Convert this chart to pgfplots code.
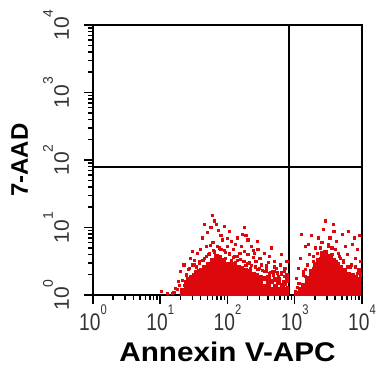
\documentclass[border=0pt]{standalone}
\usepackage{pgfplots}
\pgfplotsset{compat=1.18}
\usepackage{fontspec}
\setmainfont{Liberation Sans}
\newfontfamily\tickfont[FakeStretch=0.8]{Liberation Sans}
\newfontfamily\xlabfont[FakeStretch=1.1]{Liberation Sans}
\definecolor{cred}{RGB}{220,8,12}
\newcommand{\tl}[1]{10\raisebox{16pt}{\fontsize{14}{15}\selectfont #1}}
\newcommand{\tly}[1]{10\raisebox{16pt}{\fontsize{14}{15}\selectfont #1}\rule[-14pt]{0pt}{14pt}}
\begin{document}
\begin{tikzpicture}
\begin{axis}[
 scale only axis, width=269pt, height=270pt,
 xmin=0, xmax=4, ymin=0, ymax=4,
 clip=false, axis on top=true,
 xtick={0,1,2,3,4}, ytick={0,1,2,3,4},
 xticklabels={\tl{0},\tl{1},\tl{2},\tl{3},\tl{4}},
 yticklabels={\tly{0},\tly{1},\tly{2},\tly{3},\tly{4}},
 tick align=outside, tick pos=left,
 major tick length=9pt, minor tick length=5pt,
 tick style={draw=black, line width=1.5pt},
 axis line style={line width=2pt},
 xticklabel style={font=\tickfont\fontsize{24}{26}\selectfont, text=black!80, inner sep=1pt},
 yticklabel style={font=\fontsize{21}{23}\selectfont, text=black!80, inner sep=1pt, rotate=90, anchor=south},
 xlabel={\xlabfont\bfseries Annexin V-APC},
 ylabel={\bfseries 7-AAD},
 xlabel style={font=\fontsize{27}{29}\selectfont, at={(axis description cs:0.5,-0.248)}, anchor=base},
 ylabel style={font=\fontsize{24}{26}\selectfont, at={(axis description cs:-0.2417,0.5)}, anchor=base},
]
% dense core, population 1
\addplot[cred, only marks, mark=square*, mark size=2pt, mark options={draw=none, fill=cred}] coordinates {
(1.33,0.03)(1.33,0.07)
(1.39,0.03)(1.39,0.08)(1.39,0.13)(1.39,0.19)
(1.44,0.03)(1.44,0.07)(1.44,0.13)(1.44,0.18)(1.44,0.24)
(1.50,0.03)(1.50,0.08)(1.50,0.14)(1.50,0.19)(1.50,0.25)(1.50,0.30)
(1.55,0.03)(1.55,0.07)(1.55,0.13)(1.55,0.19)(1.55,0.24)(1.55,0.31)
(1.61,0.03)(1.61,0.08)(1.61,0.13)(1.61,0.18)(1.61,0.25)(1.61,0.30)(1.61,0.36)
(1.66,0.03)(1.66,0.07)(1.66,0.14)(1.66,0.19)(1.66,0.24)(1.66,0.29)(1.66,0.35)(1.66,0.41)
(1.72,0.03)(1.72,0.08)(1.72,0.13)(1.72,0.18)(1.72,0.24)(1.72,0.30)(1.72,0.36)(1.72,0.41)(1.72,0.46)
(1.77,0.03)(1.77,0.07)(1.77,0.13)(1.77,0.19)(1.77,0.25)(1.77,0.30)(1.77,0.35)(1.77,0.40)(1.77,0.46)(1.77,0.52)
(1.83,0.03)(1.83,0.08)(1.83,0.14)(1.83,0.19)(1.83,0.24)(1.83,0.29)(1.83,0.35)(1.83,0.41)(1.83,0.47)(1.83,0.52)(1.83,0.57)
(1.88,0.03)(1.88,0.07)(1.88,0.13)(1.88,0.18)(1.88,0.24)(1.88,0.30)(1.88,0.36)(1.88,0.42)(1.88,0.46)(1.88,0.51)(1.88,0.56)
(1.94,0.03)(1.94,0.08)(1.94,0.13)(1.94,0.19)(1.94,0.25)(1.94,0.30)(1.94,0.35)(1.94,0.41)(1.94,0.47)(1.94,0.52)
(1.99,0.03)(1.99,0.07)(1.99,0.14)(1.99,0.19)(1.99,0.24)(1.99,0.29)(1.99,0.36)(1.99,0.41)(1.99,0.46)
(2.05,0.03)(2.05,0.08)(2.05,0.13)(2.05,0.18)(2.05,0.25)(2.05,0.30)(2.05,0.35)(2.05,0.40)(2.05,0.46)
(2.10,0.03)(2.10,0.07)(2.10,0.13)(2.10,0.19)(2.10,0.24)(2.10,0.31)(2.10,0.36)(2.10,0.42)
(2.16,0.03)(2.16,0.08)(2.16,0.14)(2.16,0.19)(2.16,0.25)(2.16,0.30)(2.16,0.35)(2.16,0.41)
(2.21,0.03)(2.21,0.07)(2.21,0.13)(2.21,0.18)(2.21,0.24)(2.21,0.29)(2.21,0.36)(2.21,0.40)
(2.27,0.03)(2.27,0.08)(2.27,0.13)(2.27,0.19)(2.27,0.25)(2.27,0.31)(2.27,0.37)
(2.32,0.03)(2.32,0.07)(2.32,0.14)(2.32,0.20)(2.32,0.24)(2.32,0.30)(2.32,0.35)
(2.38,0.03)(2.38,0.08)(2.38,0.13)(2.38,0.19)(2.38,0.26)(2.38,0.31)
(2.43,0.03)(2.43,0.07)(2.43,0.13)(2.43,0.18)(2.43,0.24)(2.43,0.29)
(2.49,0.03)(2.49,0.08)(2.49,0.14)(2.49,0.20)(2.49,0.27)
(2.54,0.03)(2.54,0.07)(2.54,0.13)(2.54,0.25)
(2.60,0.03)(2.60,0.08)(2.60,0.14)(2.60,0.19)(2.60,0.26)
(2.65,0.03)(2.65,0.09)(2.65,0.20)
(2.71,0.03)(2.71,0.07)(2.71,0.13)(2.71,0.24)
(2.76,0.03)(2.76,0.08)(2.76,0.19)
(2.82,0.03)(2.82,0.09)(2.82,0.14)
(2.87,0.03)(2.87,0.08)
};
% dense core, population 2
\addplot[cred, only marks, mark=square*, mark size=2pt, mark options={draw=none, fill=cred}] coordinates {
(3.02,0.03)
(3.08,0.03)(3.08,0.08)
(3.13,0.03)(3.13,0.07)(3.13,0.14)
(3.19,0.03)(3.19,0.08)(3.19,0.13)(3.19,0.19)(3.19,0.25)
(3.24,0.03)(3.24,0.07)(3.24,0.13)(3.24,0.19)(3.24,0.24)(3.24,0.30)(3.24,0.35)
(3.30,0.03)(3.30,0.08)(3.30,0.14)(3.30,0.19)(3.30,0.25)(3.30,0.31)(3.30,0.36)(3.30,0.41)(3.30,0.46)
(3.35,0.03)(3.35,0.07)(3.35,0.13)(3.35,0.18)(3.35,0.24)(3.35,0.29)(3.35,0.35)(3.35,0.41)(3.35,0.47)(3.35,0.52)
(3.41,0.03)(3.41,0.08)(3.41,0.13)(3.41,0.19)(3.41,0.25)(3.41,0.30)(3.41,0.36)(3.41,0.41)(3.41,0.46)(3.41,0.52)(3.41,0.57)(3.41,0.62)
(3.46,0.03)(3.46,0.07)(3.46,0.14)(3.46,0.19)(3.46,0.24)(3.46,0.30)(3.46,0.35)(3.46,0.41)(3.46,0.47)(3.46,0.52)(3.46,0.58)(3.46,0.64)
(3.52,0.03)(3.52,0.08)(3.52,0.13)(3.52,0.18)(3.52,0.25)(3.52,0.31)(3.52,0.36)(3.52,0.42)(3.52,0.47)(3.52,0.53)(3.52,0.58)
(3.57,0.03)(3.57,0.07)(3.57,0.13)(3.57,0.19)(3.57,0.24)(3.57,0.30)(3.57,0.35)(3.57,0.41)(3.57,0.46)(3.57,0.51)
(3.63,0.03)(3.63,0.08)(3.63,0.14)(3.63,0.20)(3.63,0.25)(3.63,0.31)(3.63,0.36)(3.63,0.42)(3.63,0.46)
(3.68,0.03)(3.68,0.07)(3.68,0.13)(3.68,0.19)(3.68,0.24)(3.68,0.29)(3.68,0.35)(3.68,0.41)
(3.74,0.03)(3.74,0.08)(3.74,0.13)(3.74,0.18)(3.74,0.25)(3.74,0.30)(3.74,0.36)
(3.79,0.03)(3.79,0.07)(3.79,0.14)(3.79,0.19)(3.79,0.24)(3.79,0.31)
(3.85,0.03)(3.85,0.08)(3.85,0.13)(3.85,0.20)(3.85,0.25)(3.85,0.30)
(3.90,0.03)(3.90,0.07)(3.90,0.13)(3.90,0.19)(3.90,0.26)
(3.95,0.03)(3.95,0.08)(3.95,0.14)(3.95,0.20)(3.95,0.24)
};
% scattered events, population 1
\addplot[cred, only marks, mark=square*, mark size=1.1pt, mark options={draw=none, fill=cred}] coordinates {
(1.77,1.18)(1.80,1.10)(1.83,1.05)(1.75,1.00)(1.86,0.96)(1.70,0.93)(1.62,0.85)(1.90,0.88)
(2.05,0.80)(2.15,0.85)(2.22,0.90)(2.27,0.88)(2.30,0.82)(2.12,0.75)(2.35,0.72)(2.45,0.68)
(2.55,0.62)(2.62,0.58)(2.70,0.50)(2.78,0.45)(2.85,0.40)(2.88,0.30)(2.80,0.33)(2.75,0.28)
(2.66,0.35)(2.58,0.40)(2.50,0.45)(2.42,0.50)(2.38,0.56)(2.30,0.60)(2.25,0.65)(2.18,0.62)
(2.10,0.58)(2.02,0.62)(1.95,0.66)(1.88,0.70)(1.80,0.64)(1.72,0.60)(1.65,0.55)(1.58,0.50)
(1.50,0.45)(1.43,0.40)(1.38,0.30)(1.33,0.22)(1.28,0.15)(1.25,0.08)(1.20,0.04)(1.10,0.03)
(1.02,0.06)(1.45,0.55)(1.55,0.62)(1.68,0.72)(1.78,0.78)(1.92,0.82)(2.00,0.72)(2.08,0.68)
(2.20,0.72)(2.40,0.62)(2.48,0.55)(2.60,0.48)(2.72,0.40)(1.60,0.68)(1.85,0.58)(1.97,0.55)
(2.15,0.52)(2.32,0.48)(2.55,0.35)(2.68,0.30)(1.52,0.35)(1.40,0.25)(2.83,0.20)(2.89,0.12)
(2.89,0.05)(1.30,0.35)(1.35,0.45)(1.48,0.65)(2.02,0.95)(1.95,1.02)(2.25,1.00)(1.65,1.05)
(2.44,0.80)(2.65,0.70)(2.80,0.60)(2.88,0.50)(1.73,0.47)(1.88,0.50)(2.05,0.52)(2.27,0.44)
(2.45,0.38)(2.62,0.32)(2.77,0.24)(1.57,0.36)(1.45,0.28)(2.86,0.16)(2.34,0.40)(2.12,0.48)
(1.42,0.38)(1.47,0.45)(1.53,0.42)(1.58,0.47)(1.63,0.52)(1.68,0.58)(1.73,0.62)(1.79,0.66)
(1.85,0.72)(1.90,0.68)(1.96,0.63)(2.03,0.60)(2.08,0.56)(2.14,0.58)(2.19,0.53)(2.24,0.50)
(2.30,0.47)(2.35,0.44)(2.41,0.42)(2.47,0.40)(2.52,0.37)(2.57,0.36)(2.63,0.34)(2.69,0.35)
(2.74,0.33)(2.80,0.31)(2.85,0.28)(2.88,0.25)(2.58,0.44)(2.70,0.42)(2.84,0.36)(2.88,0.20)
(1.22,0.10)(1.18,0.03)(1.27,0.20)(1.36,0.15)(1.50,0.52)(1.74,0.74)(2.00,0.84)(2.38,0.66)
};
% scattered events, population 2
\addplot[cred, only marks, mark=square*, mark size=1.1pt, mark options={draw=none, fill=cred}] coordinates {
(3.02,0.25)(3.05,0.40)(3.08,0.55)(3.12,0.35)(3.18,0.45)(3.22,0.60)(3.28,0.50)(3.30,0.70)
(3.35,0.85)(3.40,0.78)(3.45,0.65)(3.50,0.72)(3.55,0.60)(3.60,0.68)(3.62,0.80)(3.68,0.55)
(3.72,0.48)(3.78,0.60)(3.82,0.42)(3.85,0.75)(3.90,0.55)(3.95,0.38)(3.97,0.50)(3.93,0.68)
(3.88,0.85)(3.70,0.90)(3.58,0.95)(3.42,0.98)(3.25,0.88)(3.15,0.72)(3.10,0.90)(3.48,0.58)
(3.38,0.55)(3.65,0.62)(3.75,0.72)(3.96,0.88)(3.20,0.75)(3.33,0.62)(3.52,0.85)(3.80,0.95)
(3.06,0.18)(3.16,0.28)(3.27,0.40)(3.44,0.54)(3.62,0.50)(3.78,0.42)(3.93,0.32)(3.97,0.28)
(3.04,0.12)(3.01,0.05)(3.12,0.30)(3.16,0.38)(3.28,0.58)(3.38,0.70)(3.50,0.75)(3.55,0.70)
(3.66,0.58)(3.72,0.52)(3.84,0.45)(3.90,0.42)(3.95,0.36)(3.97,0.32)(3.57,1.05)(3.45,1.10)
};
% quadrant gates
\addplot[black, line width=2.2pt] coordinates {(2.91,0) (2.91,4)};
\addplot[black, line width=1.3pt] coordinates {(0,1.895) (4,1.895)};
% axis tick marks (decades and log minor positions)
\addplot[black, line width=1.5pt, unbounded coords=jump] coordinates {
(0,0)(0,-0.134)(0,nan) (1,0)(1,-0.134)(1,nan) (2,0)(2,-0.134)(2,nan) (3,0)(3,-0.134)(3,nan) (4,0)(4,-0.134)(4,nan)
(0,0)(-0.133,0)(nan,0) (0,1)(-0.133,1)(nan,1) (0,2)(-0.133,2)(nan,2) (0,3)(-0.133,3)(nan,3) (0,4)(-0.133,4)(nan,4)
};
\addplot[black, line width=1.5pt, unbounded coords=jump] coordinates {
(0.301,0)(0.301,-0.074)(0.301,nan) (0.477,0)(0.477,-0.074)(0.477,nan) (0.602,0)(0.602,-0.074)(0.602,nan) (0.699,0)(0.699,-0.074)(0.699,nan)
(0.778,0)(0.778,-0.074)(0.778,nan) (0.845,0)(0.845,-0.074)(0.845,nan) (0.903,0)(0.903,-0.074)(0.903,nan) (0.954,0)(0.954,-0.074)(0.954,nan)
(1.301,0)(1.301,-0.074)(1.301,nan) (1.477,0)(1.477,-0.074)(1.477,nan) (1.602,0)(1.602,-0.074)(1.602,nan) (1.699,0)(1.699,-0.074)(1.699,nan)
(1.778,0)(1.778,-0.074)(1.778,nan) (1.845,0)(1.845,-0.074)(1.845,nan) (1.903,0)(1.903,-0.074)(1.903,nan) (1.954,0)(1.954,-0.074)(1.954,nan)
(2.301,0)(2.301,-0.074)(2.301,nan) (2.477,0)(2.477,-0.074)(2.477,nan) (2.602,0)(2.602,-0.074)(2.602,nan) (2.699,0)(2.699,-0.074)(2.699,nan)
(2.778,0)(2.778,-0.074)(2.778,nan) (2.845,0)(2.845,-0.074)(2.845,nan) (2.903,0)(2.903,-0.074)(2.903,nan) (2.954,0)(2.954,-0.074)(2.954,nan)
(3.301,0)(3.301,-0.074)(3.301,nan) (3.477,0)(3.477,-0.074)(3.477,nan) (3.602,0)(3.602,-0.074)(3.602,nan) (3.699,0)(3.699,-0.074)(3.699,nan)
(3.778,0)(3.778,-0.074)(3.778,nan) (3.845,0)(3.845,-0.074)(3.845,nan) (3.903,0)(3.903,-0.074)(3.903,nan) (3.954,0)(3.954,-0.074)(3.954,nan)
};
\addplot[black, line width=1.5pt, unbounded coords=jump] coordinates {
(0,0.301)(-0.074,0.301)(nan,0.301) (0,0.477)(-0.074,0.477)(nan,0.477) (0,0.602)(-0.074,0.602)(nan,0.602) (0,0.699)(-0.074,0.699)(nan,0.699)
(0,0.778)(-0.074,0.778)(nan,0.778) (0,0.845)(-0.074,0.845)(nan,0.845) (0,0.903)(-0.074,0.903)(nan,0.903) (0,0.954)(-0.074,0.954)(nan,0.954)
(0,1.301)(-0.074,1.301)(nan,1.301) (0,1.477)(-0.074,1.477)(nan,1.477) (0,1.602)(-0.074,1.602)(nan,1.602) (0,1.699)(-0.074,1.699)(nan,1.699)
(0,1.778)(-0.074,1.778)(nan,1.778) (0,1.845)(-0.074,1.845)(nan,1.845) (0,1.903)(-0.074,1.903)(nan,1.903) (0,1.954)(-0.074,1.954)(nan,1.954)
(0,2.301)(-0.074,2.301)(nan,2.301) (0,2.477)(-0.074,2.477)(nan,2.477) (0,2.602)(-0.074,2.602)(nan,2.602) (0,2.699)(-0.074,2.699)(nan,2.699)
(0,2.778)(-0.074,2.778)(nan,2.778) (0,2.845)(-0.074,2.845)(nan,2.845) (0,2.903)(-0.074,2.903)(nan,2.903) (0,2.954)(-0.074,2.954)(nan,2.954)
(0,3.301)(-0.074,3.301)(nan,3.301) (0,3.477)(-0.074,3.477)(nan,3.477) (0,3.602)(-0.074,3.602)(nan,3.602) (0,3.699)(-0.074,3.699)(nan,3.699)
(0,3.778)(-0.074,3.778)(nan,3.778) (0,3.845)(-0.074,3.845)(nan,3.845) (0,3.903)(-0.074,3.903)(nan,3.903) (0,3.954)(-0.074,3.954)(nan,3.954)
};
\end{axis}
\pgfresetboundingbox
\useasboundingbox (-93pt,-76pt) rectangle (284pt,295pt);
\end{tikzpicture}
\end{document}
